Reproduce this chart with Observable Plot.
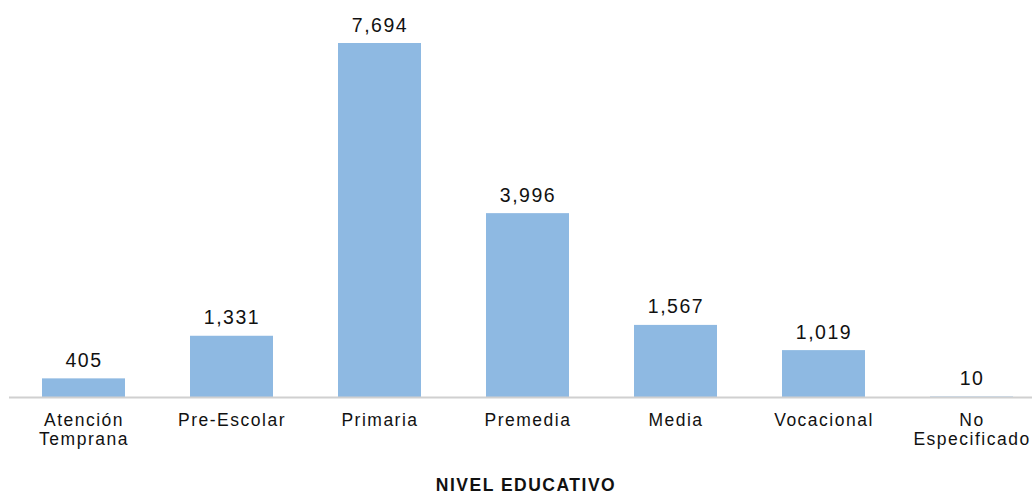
<!DOCTYPE html>
<html>
<head>
<meta charset="utf-8">
<script src="https://cdn.jsdelivr.net/npm/d3@7"></script>
<script src="https://cdn.jsdelivr.net/npm/@observablehq/plot@0.6"></script>
<style>
  html, body { margin: 0; padding: 0; background: #fff; width: 1032px; height: 495px; overflow: hidden; }
  #chart svg { display: block; font-family: "Liberation Sans", Arial, sans-serif; letter-spacing: 1.5px; }
  #xlabel { font-family: "Liberation Sans", Arial, sans-serif; font-weight: bold; font-size: 17.5px; letter-spacing: 1.5px;
            color: #111; text-align: center; width: 1032px; padding-left: 20px; padding-top: 5px; box-sizing: border-box; line-height: 20px; }
</style>
</head>
<body>
<div id="chart"></div>
<div id="xlabel">NIVEL EDUCATIVO</div>
<script>
const categories = ["Atención\nTemprana", "Pre-Escolar", "Primaria", "Premedia", "Media", "Vocacional", "No\nEspecificado"];
const values = [405, 1331, 7694, 3996, 1567, 1019, 10];
const axisTitle = "NIVEL EDUCATIVO";

const data = categories.map((c, i) => ({cat: c, value: values[i]}));
const fmt = d3.format(",");

const chart = Plot.plot({
  width: 1032,
  height: 470,
  marginLeft: 9,
  marginRight: 0,
  marginTop: 43,
  marginBottom: 73,
  x: {domain: categories, range: [9, 1045], paddingInner: 0.44, paddingOuter: 0.22, align: 0.5, axis: null},
  y: {domain: [0, 7694], axis: null},
  marks: [
    Plot.barY(data, {x: "cat", y: "value", fill: "#8EB9E2"}),
    Plot.ruleY([0], {stroke: "#d0d0d0", strokeWidth: 2}),
    Plot.text(data, {x: "cat", y: "value", text: d => fmt(d.value), dy: -12, lineAnchor: "bottom", fontSize: 19.5, fill: "#111"}),
    Plot.axisX({anchor: "bottom", tickSize: 0, tickPadding: 15, fontSize: 17.5, lineHeight: 1.1, label: null, color: "#111", textAnchor: "middle"}),
  ]
});
document.getElementById("chart").appendChild(chart);
document.getElementById("xlabel").textContent = axisTitle;
</script>
</body>
</html>
